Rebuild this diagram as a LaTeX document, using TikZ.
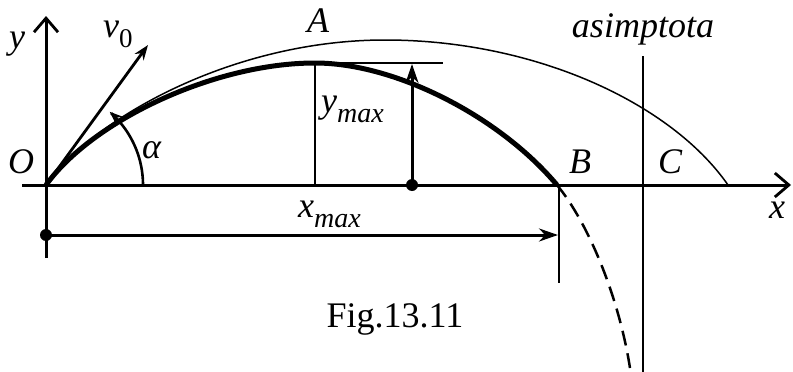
\documentclass[tikz,border=0pt]{standalone}
\usepackage{fontspec}
\setmainfont{Liberation Serif}
\usetikzlibrary{arrows.meta}
\begin{document}
\begin{tikzpicture}[x=1pt,y=-1pt,
  lbl/.style={inner sep=0pt, anchor=base, font=\fontsize{36}{40}\selectfont\itshape},
  figcaption/.style={inner sep=0pt, anchor=base, font=\fontsize{36}{40}\selectfont},
  axisline/.style={line width=3pt, -{Straight Barb[length=14pt,width=24pt,line width=2.8pt]}},
  thickcurve/.style={line width=5pt},
  thincurve/.style={line width=1.5pt},
  thinline/.style={line width=1.6pt},
  vecline/.style={line width=3pt, -{Stealth[length=19pt,width=13pt]}},
  dashcurve/.style={line width=2.5pt, dash pattern=on 15pt off 8pt},
  dotstyle/.style={fill=black}
]
\useasboundingbox (0,0) rectangle (793,372);
% coordinates
\coordinate (O) at (46,185);
\coordinate (Xs) at (22,185);
\coordinate (Xe) at (791,185);
\coordinate (Ys) at (46,258);
\coordinate (Ye) at (46,16);
\coordinate (V) at (148,45);
\coordinate (P) at (315,63);
\coordinate (Pf) at (315,185);
\coordinate (Pr) at (443,63);
\coordinate (Hb) at (412,185);
\coordinate (Ht) at (412,64);
\coordinate (B) at (557,185);
\coordinate (Bt) at (559,185);
\coordinate (Bb) at (559,283);
\coordinate (D) at (630,368);
\coordinate (M) at (46,235);
\coordinate (Me) at (558,235);
\coordinate (Q) at (385,40);
\coordinate (R) at (728,185);
\coordinate (At) at (643,56);
\coordinate (Ab) at (643,372);
% asymptote
\draw[line width=2.4pt] (At) -- (Ab);
% thin curve
\draw[thincurve] (O) .. controls (96,116) and (235,40) .. (Q) .. controls (535,40) and (671,103) .. (R);
% axes
\draw[axisline] (Xs) -- (Xe);
\draw[axisline] (Ys) -- (Ye);
% thin helper lines
\draw[thinline] (P) -- (Pf);
\draw[thinline] (P) -- (Pr);
\draw[thinline] (Bt) -- (Bb);
% thick trajectory
\draw[thickcurve] (O) .. controls (93,120) and (215,63) .. (P) .. controls (395,63) and (499,116) .. (B);
\draw[dashcurve] (B) .. controls (589,224) and (619,298) .. (D);
% v0 vector
\draw[vecline, line width=2.8pt, -{Stealth[length=15pt,width=11pt]}] (O) -- (V);
% angle arc
\draw[line width=2.6pt, -{Stealth[length=13pt,width=10pt]}] plot[domain=0:49, samples=40] ({46+97*cos(\x)},{185-97*sin(\x)});
% ymax arrow
\fill[dotstyle] (Hb) circle[radius=6];
\draw[vecline] (Hb) -- (Ht);
% xmax arrow
\fill[dotstyle] (M) circle[radius=6];
\draw[vecline] (M) -- (Me);
% labels
\node[lbl] (ly) at (17,48) {y};
\node[lbl, anchor=base west] (lv) at (103,37) {v\raisebox{-0.28em}{\fontsize{27}{27}\selectfont\upshape 0}};
\node[lbl, anchor=base west] (lO) at (8,173) {O};
\node[lbl, anchor=base west] (la) at (142,158) {α};
\node[lbl] (lA) at (318,32) {A};
\node[lbl, anchor=base west] (lym) at (321,112) {y\raisebox{-0.3em}{\fontsize{28}{28}\selectfont max}};
\node[lbl, anchor=base west] (lxm) at (298,217) {x\raisebox{-0.3em}{\fontsize{28}{28}\selectfont max}};
\node[lbl] (lB) at (580,173) {B};
\node[lbl] (lC) at (670,173) {C};
\node[lbl] (lx) at (777,218) {x};
\node[lbl] (las) at (643,37) {asimptota};
\node[figcaption] (fig) at (395,327) {Fig.13.11};
\end{tikzpicture}
\end{document}
